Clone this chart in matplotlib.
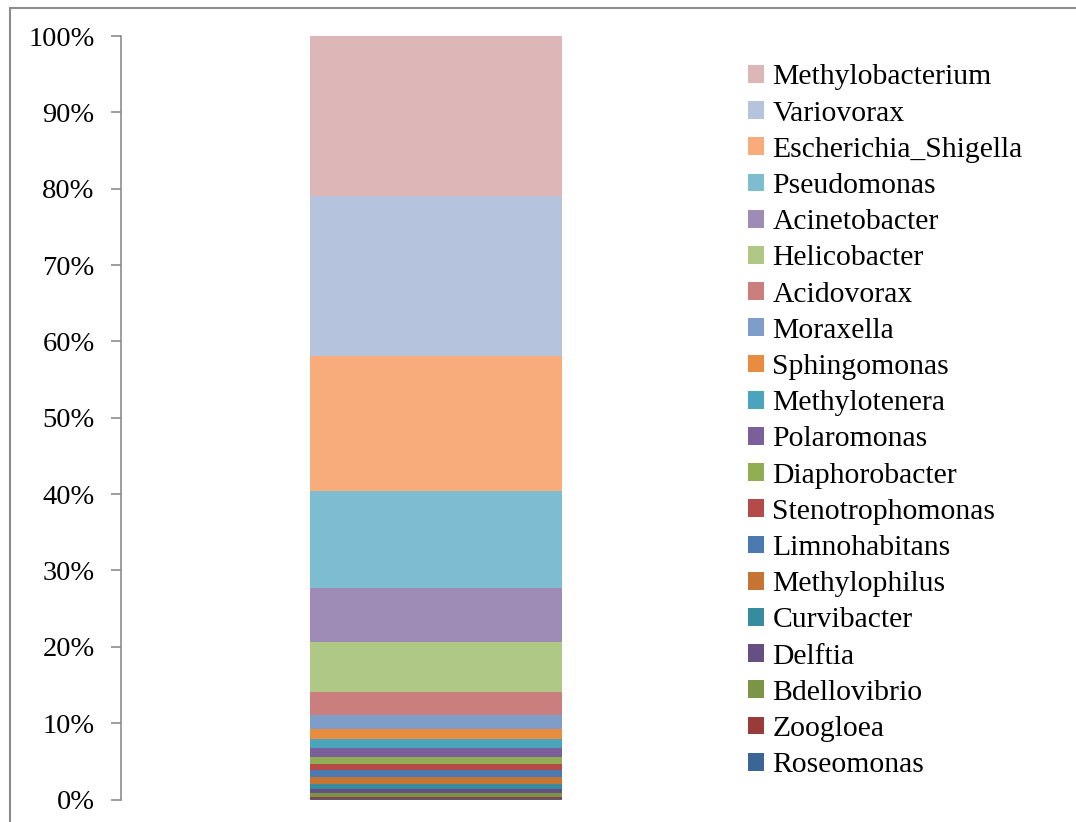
import matplotlib.pyplot as plt
from matplotlib.patches import Rectangle
from matplotlib.ticker import PercentFormatter

# Gattungen von unten nach oben
genera = ["Roseomonas", "Zoogloea", "Bdellovibrio", "Delftia", "Curvibacter",
          "Methylophilus", "Limnohabitans", "Stenotrophomonas", "Diaphorobacter",
          "Polaromonas", "Methylotenera", "Sphingomonas", "Moraxella", "Acidovorax",
          "Helicobacter", "Acinetobacter", "Pseudomonas", "Escherichia_Shigella",
          "Variovorax", "Methylobacterium"]
shares = [0.13, 0.26, 0.52, 0.52, 0.65,
          0.92, 0.92, 0.79, 0.92,
          1.05, 1.18, 1.35, 1.83, 3.1,
          6.5, 7.1, 12.7, 17.6,
          21.0, 20.96]
colors = ["#3A6595", "#983B39", "#7A9544", "#664F82", "#368B9F",
          "#C57434", "#4A7AB0", "#B54B48", "#8FAF52",
          "#7A5F9A", "#4AA4BC", "#E88D40", "#7F9DC9", "#CB7E7E",
          "#AFC886", "#9E8BB6", "#7EBDD1", "#F8AB7B",
          "#B6C3DD", "#DDB7B7"]

plt.rcParams["font.family"] = ["Liberation Serif", "DejaVu Serif"]

fig = plt.figure(figsize=(10.76, 8.22), dpi=100)
ax = fig.add_axes([121 / 1076, 1 - 799.5 / 822, 630 / 1076, 763.5 / 822])

# Rahmen um die Grafik
fig.patches.append(Rectangle((10 / 1076, -0.1), 1.2, 1 - 8 / 822 + 0.1,
                             transform=fig.transFigure, fill=False,
                             edgecolor="#8C8C8C", linewidth=1.5))

bottom = 0
handles = []
for name, val, col in zip(genera, shares, colors):
    b = ax.bar(0, val, width=0.4, bottom=bottom, color=col, label=name)
    handles.append(b)
    bottom += val

ax.set_xlim(-0.5, 0.5)
ax.set_ylim(0, 100)
ax.set_yticks(range(0, 101, 10))
ax.yaxis.set_major_formatter(PercentFormatter(decimals=0))
ax.set_xticks([])
for s in ["top", "right", "bottom"]:
    ax.spines[s].set_visible(False)
ax.spines["left"].set_color("#8C8C8C")
ax.spines["left"].set_linewidth(1.2)
ax.tick_params(axis="y", direction="out", length=7, width=1.2,
               color="#8C8C8C", labelsize=20.5, pad=12)

fig.legend(handles[::-1], genera[::-1], loc="upper left",
           bbox_to_anchor=(736 / 1076, 1 - 52.5 / 822), frameon=False,
           fontsize=21.3, handlelength=0.55, handleheight=0.55,
           handletextpad=0.28, labelspacing=0.345, borderaxespad=0)

plt.savefig("out.png", dpi=100)
